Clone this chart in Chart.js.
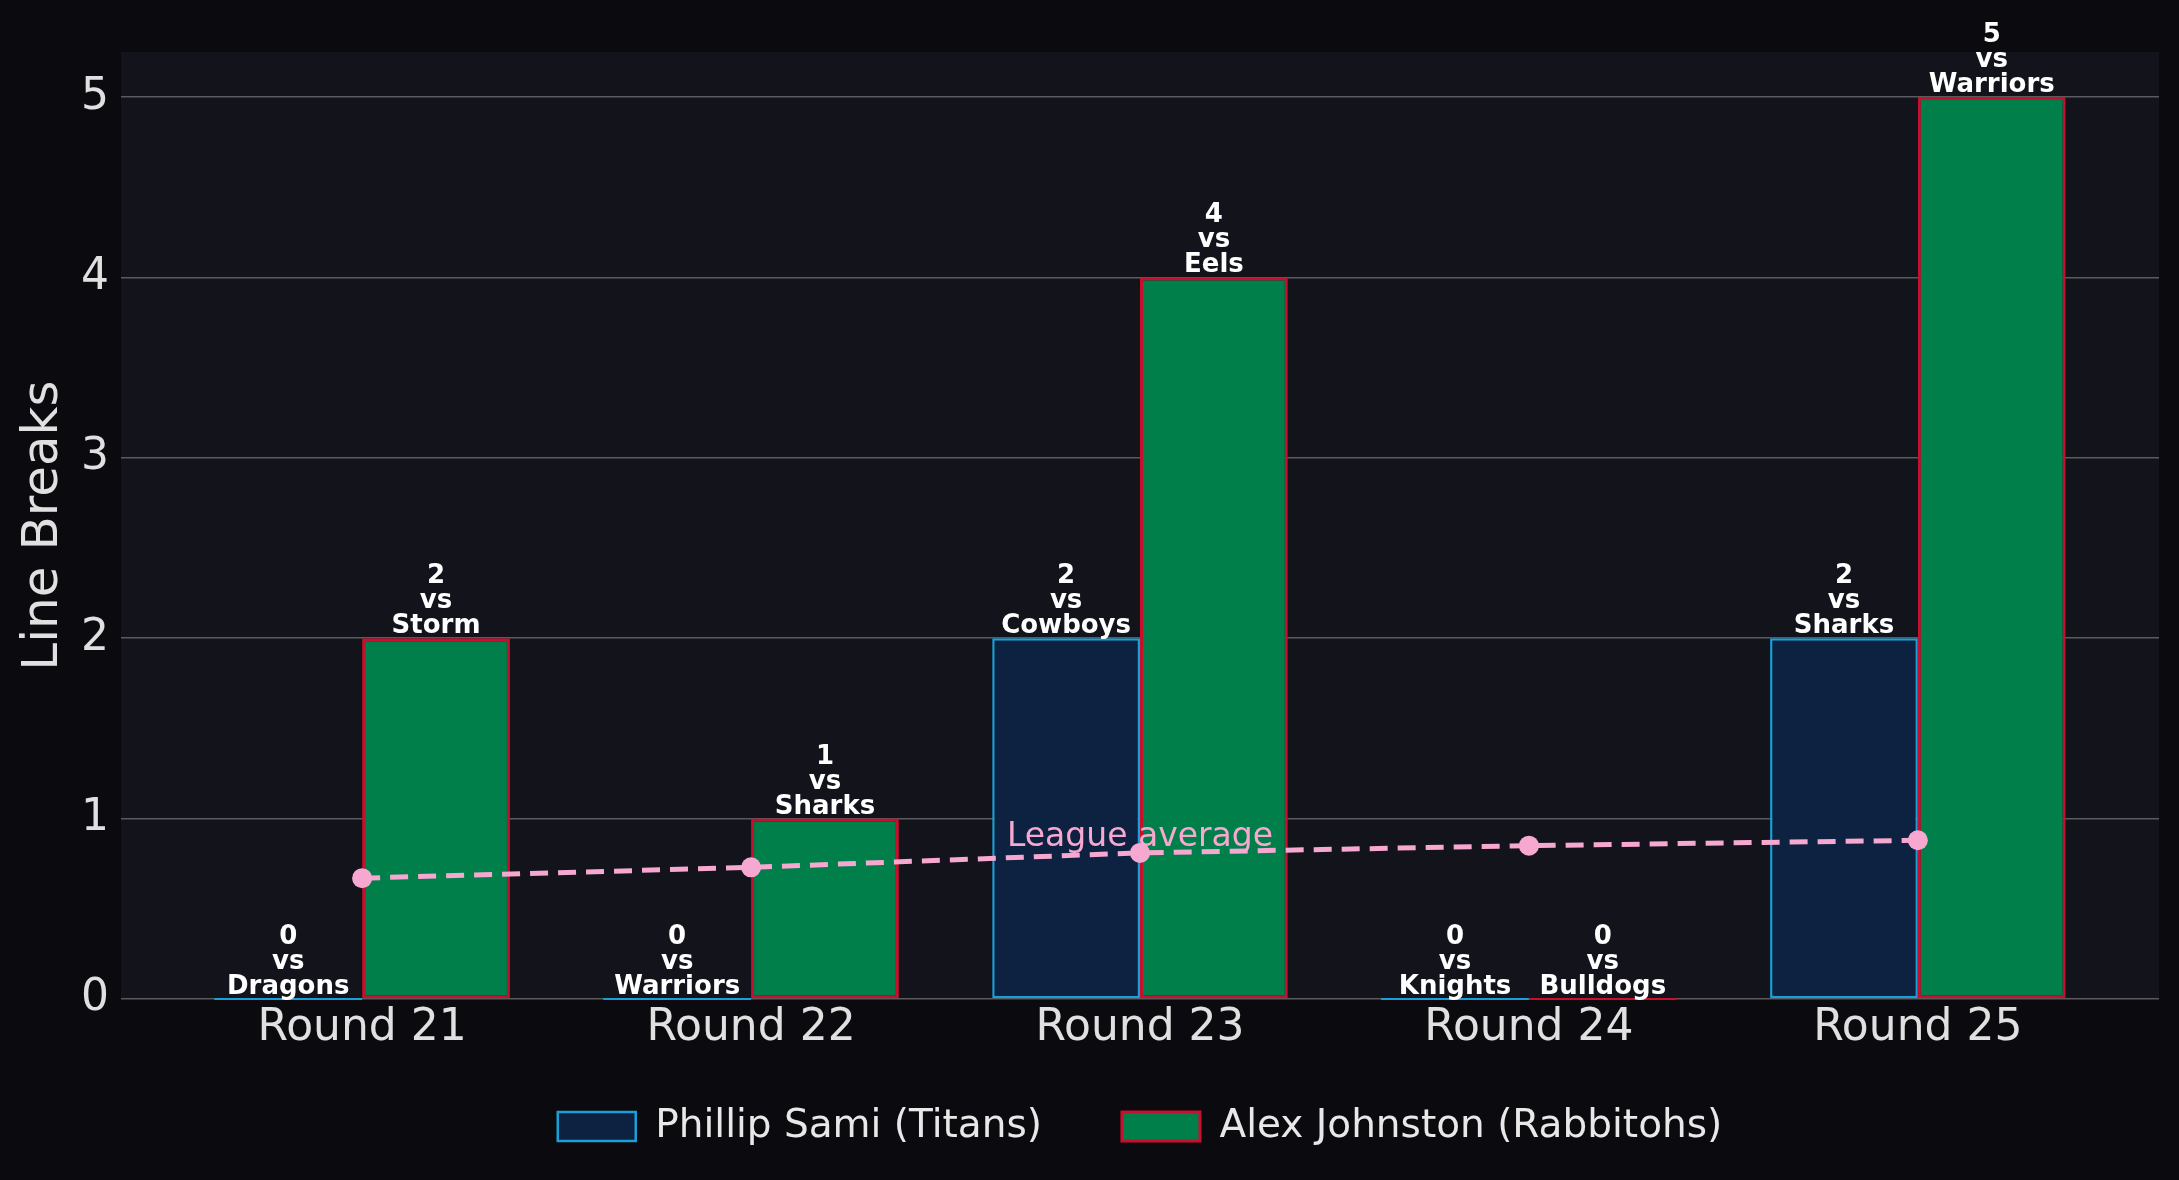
<!DOCTYPE html>
<html>
<head>
<meta charset="utf-8">
<script src="https://cdn.jsdelivr.net/npm/chart.js@4.4.1/dist/chart.umd.min.js"></script>
<style>
  html, body { margin: 0; padding: 0; background: #0b0b0f; }
  #wrap { width: 2179px; height: 1180px; }
</style>
</head>
<body>
<div id="wrap"><canvas id="c" width="2179" height="1180"></canvas></div>
<script>
const rounds = ['Round 21', 'Round 22', 'Round 23', 'Round 24', 'Round 25'];
const samiBreaks = [0, 0, 2, 0, 2];
const johnstonBreaks = [2, 1, 4, 0, 5];
const samiOpponents = ['Dragons', 'Warriors', 'Cowboys', 'Knights', 'Sharks'];
const johnstonOpponents = ['Storm', 'Sharks', 'Eels', 'Bulldogs', 'Warriors'];
const leagueAverage = [0.67, 0.73, 0.81, 0.85, 0.88];
const yTicks = [0, 1, 2, 3, 4, 5];

const FONT = "'DejaVu Sans', sans-serif";
const PINK = '#f7a8d0';

const toPoints = arr => arr.map((v, i) => ({ x: i, y: v }));

// fond de la zone du graphique
const plotBg = {
    id: 'plotBg',
    beforeDraw(chart) {
        const { ctx, chartArea: a } = chart;
        ctx.save();
        ctx.fillStyle = '#12131b';
        ctx.fillRect(a.left, a.top, a.right - a.left, a.bottom - a.top);
        ctx.restore();
    }
};

// centre la legende sur la zone du graphique et la remonte un peu
const legendPlace = {
    id: 'legendPlace',
    afterLayout(chart) {
        const lg = chart.legend;
        const a = chart.chartArea;
        const shift = (a.left + a.right) / 2 - (lg.left + lg.right) / 2;
        lg.left += shift;
        lg.right += shift;
        lg.top -= 24;
        lg.bottom -= 24;
    }
};

// etiquettes "valeur / vs / adversaire" au-dessus des barres
const barLabels = {
    id: 'barLabels',
    afterDatasetsDraw(chart) {
        const { ctx } = chart;
        const opponents = [samiOpponents, johnstonOpponents];
        const borders = ['#1a9fd8', '#c8102e'];
        ctx.save();
        [0, 1].forEach(di => {
            const meta = chart.getDatasetMeta(di);
            meta.data.forEach((bar, i) => {
                const value = chart.data.datasets[di].data[i].y;
                // barre a zero : trait fin sur la ligne de base
                if (value === 0) {
                    ctx.strokeStyle = borders[di];
                    ctx.lineWidth = 2;
                    ctx.beginPath();
                    ctx.moveTo(bar.x - bar.width / 2, bar.base);
                    ctx.lineTo(bar.x + bar.width / 2, bar.base);
                    ctx.stroke();
                }
                const lines = [String(value), 'vs', opponents[di][i]];
                const base = bar.y - 5;
                ctx.fillStyle = '#ffffff';
                ctx.font = 'bold 26px ' + FONT;
                ctx.textAlign = 'center';
                ctx.textBaseline = 'alphabetic';
                lines.forEach((t, k) => {
                    ctx.fillText(t, bar.x, base - (2 - k) * 25);
                });
            });
        });
        // texte de la moyenne
        const p = chart.getDatasetMeta(2).data[2];
        ctx.font = '33px ' + FONT;
        ctx.fillStyle = PINK;
        ctx.fillText('League average', p.x, p.y - 7);
        ctx.restore();
    }
};

new Chart(document.getElementById('c'), {
    data: {
        datasets: [
            {
                type: 'bar',
                label: 'Phillip Sami (Titans)',
                data: toPoints(samiBreaks),
                backgroundColor: '#0d2240',
                borderColor: '#1a9fd8',
                borderWidth: 2.5,
                borderSkipped: false,
                order: 2
            },
            {
                type: 'bar',
                label: 'Alex Johnston (Rabbitohs)',
                data: toPoints(johnstonBreaks),
                backgroundColor: '#007f4a',
                borderColor: '#c8102e',
                borderWidth: 3,
                borderSkipped: false,
                order: 2
            },
            {
                type: 'line',
                label: 'League average',
                data: toPoints(leagueAverage),
                borderColor: PINK,
                backgroundColor: PINK,
                borderWidth: 5,
                borderDash: [18, 10],
                pointRadius: 10,
                pointBorderWidth: 0,
                fill: false,
                tension: 0,
                order: 1
            }
        ]
    },
    options: {
        responsive: false,
        devicePixelRatio: 1,
        animation: false,
        layout: { padding: { left: 19, right: 20, top: 52, bottom: 0 } },
        datasets: {
            bar: { categoryPercentage: 0.76, barPercentage: 1.0, grouped: true }
        },
        scales: {
            x: {
                type: 'linear',
                offset: false,
                min: -0.62,
                max: 4.62,
                afterBuildTicks(axis) {
                    axis.ticks = rounds.map((r, i) => ({ value: i }));
                },
                grid: { display: false },
                border: { display: false },
                ticks: {
                    color: '#e0e0e0',
                    font: { family: FONT, size: 44, lineHeight: 1.0 },
                    padding: 0,
                    autoSkip: false,
                    maxRotation: 0,
                    callback: v => rounds[v]
                }
            },
            y: {
                min: 0,
                max: 5.25,
                afterBuildTicks(axis) {
                    axis.ticks = yTicks.map(v => ({ value: v }));
                },
                grid: { color: '#5a5a5f', lineWidth: 1.5, drawTicks: false },
                border: { display: false },
                ticks: { color: '#e0e0e0', font: { family: FONT, size: 44 }, padding: 12 },
                title: {
                    display: true,
                    text: 'Line Breaks',
                    color: '#e0e0e0',
                    font: { family: FONT, size: 50, lineHeight: 1.0 },
                    padding: { top: 0, bottom: 0 }
                }
            }
        },
        plugins: {
            legend: {
                position: 'bottom',
                labels: {
                    color: '#e8e8e8',
                    font: { family: FONT, size: 39 },
                    boxWidth: 78,
                    boxHeight: 29,
                    padding: 80,
                    filter: item => item.datasetIndex < 2
                }
            },
            tooltip: { enabled: false }
        }
    },
    plugins: [plotBg, legendPlace, barLabels]
});
</script>
</body>
</html>
